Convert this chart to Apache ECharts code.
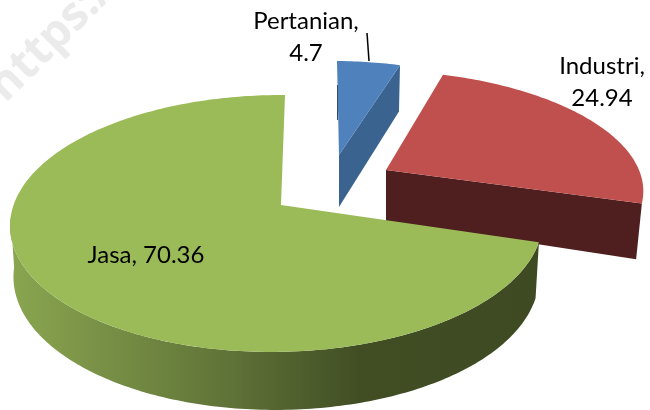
<!DOCTYPE html>
<html>
<head>
<meta charset="utf-8">
<title>Pie</title>
<script src="https://cdn.jsdelivr.net/npm/echarts@6/dist/echarts.min.js"></script>
<style>
  html, body { margin: 0; padding: 0; background: #fff; }
  #chart { width: 650px; height: 410px; }
</style>
</head>
<body>
<div id="chart"></div>
<script>
// 数据
const categories = ['Pertanian', 'Industri', 'Jasa'];
const values = [4.7, 24.94, 70.36];

// one hand-fitted perspective per exploded slice
const poses = [
  { x: 339, y: 155, R: 247.4, S: 107.5, s: -2.3, m: 0.0234, h: 52, hu: 0, hv: 6, dx: 3.5 },
  { x: 386, y: 170, R: 258.9, S: 114, s: -10.6, m: 0.0234, h: 51, hu: 5, hv: 0, dx: 6 },
  { x: 281, y: 205, R: 263.4, S: 125.8, s: 4.6, m: 0.015, h: 52, hu: 2.4, hv: 6, dx: 3.5 }
];
const K = 0.1438;

const topColors = ['#4f81bd', '#c0504d', '#9bbb59'];
const edgeColors = ['#3b6390', '#4e1f1e', '#414e24'];
const labelFont = '24px Lato, "Open Sans", sans-serif';

const labelSpots = [
  { x: 306, y: 37 },
  { x: 602, y: 82 },
  { x: 146, y: 255 }
];

function project(p, a) {
  const u = Math.sin(a), v = Math.cos(a);
  const d = 1 + K * v + p.m * u;
  return [p.x + (p.R * u + p.s * v) / d, p.y - (p.S * v) / d];
}

function drop(p, a, pt) {
  const u = Math.sin(a), v = Math.cos(a);
  return [pt[0] - p.dx * u, pt[1] + p.h + p.hu * u - p.hv * v];
}

function arc(p, from, to) {
  const pts = [];
  const n = Math.ceil(Math.abs(to - from) * 60);
  for (let i = 0; i <= n; i++) pts.push(project(p, from + (to - from) * i / n));
  return pts;
}

function polygon(points, fill) {
  return { type: 'polygon', shape: { points }, style: { fill } };
}

const total = values.reduce((a, b) => a + b, 0);

function renderSlice(params) {
  const i = params.dataIndex;
  const p = poses[i];
  const before = values.slice(0, i).reduce((a, b) => a + b, 0);
  const start = before / total * Math.PI * 2;
  const end = (before + values[i]) / total * Math.PI * 2;
  const apex = [p.x, p.y];
  const apexLow = [p.x, p.y + p.h];
  const children = [];

  if (i === 2) {
    // outer wall, only the part that faces the viewer
    const wallEnd = Math.PI * 1.47;
    const upper = arc(p, start, wallEnd);
    const angles = upper.map((_, k) => start + (wallEnd - start) * k / (upper.length - 1));
    const lower = upper.map((pt, k) => drop(p, angles[k], pt)).reverse();
    children.push(polygon(upper.concat(lower), new echarts.graphic.LinearGradient(0, 0, 1, 0, [
      { offset: 0, color: '#8aa650' },
      { offset: 0.42, color: '#5f7237' },
      { offset: 0.66, color: '#414e24' },
      { offset: 1, color: '#3e4a22' }
    ])));
  } else {
    // cut face along the slice's clockwise edge
    const corner = project(p, end);
    children.push(polygon([apex, corner, drop(p, end, corner), apexLow], edgeColors[i]));
  }
  children.push(polygon([apex].concat(arc(p, start, end)), topColors[i]));

  const wrap = i === 2 ? ', ' : ',\n';
  children.push({
    type: 'text',
    style: {
      text: categories[i] + wrap + values[i],
      x: labelSpots[i].x,
      y: labelSpots[i].y,
      align: 'center',
      verticalAlign: 'middle',
      font: labelFont,
      lineHeight: 32,
      fill: '#000'
    }
  });
  if (i === 0) {
    children.push({
      type: 'line',
      shape: { x1: 367, y1: 33, x2: 369, y2: 61 },
      style: { stroke: '#000', lineWidth: 1.5 }
    });
    children.push({
      type: 'line',
      shape: { x1: 337.5, y1: 85, x2: 337.5, y2: 120 },
      style: { stroke: '#2f4f77', lineWidth: 1 }
    });
  }
  return { type: 'group', children };
}

const chart = echarts.init(document.getElementById('chart'), null, { renderer: 'canvas' });
chart.setOption({
  backgroundColor: '#fff',
  animation: false,
  graphic: [{
    type: 'text',
    x: -20,
    y: 78,
    rotation: Math.PI / 4,
    silent: true,
    z: -1,
    style: { text: 'https:/', font: 'bold 46px "Open Sans", sans-serif', fill: '#ebebeb' }
  }],
  series: [{
    type: 'custom',
    coordinateSystem: 'none',
    renderItem: renderSlice,
    data: categories.map((name, i) => ({ name, value: values[i] }))
  }]
});
</script>
</body>
</html>
